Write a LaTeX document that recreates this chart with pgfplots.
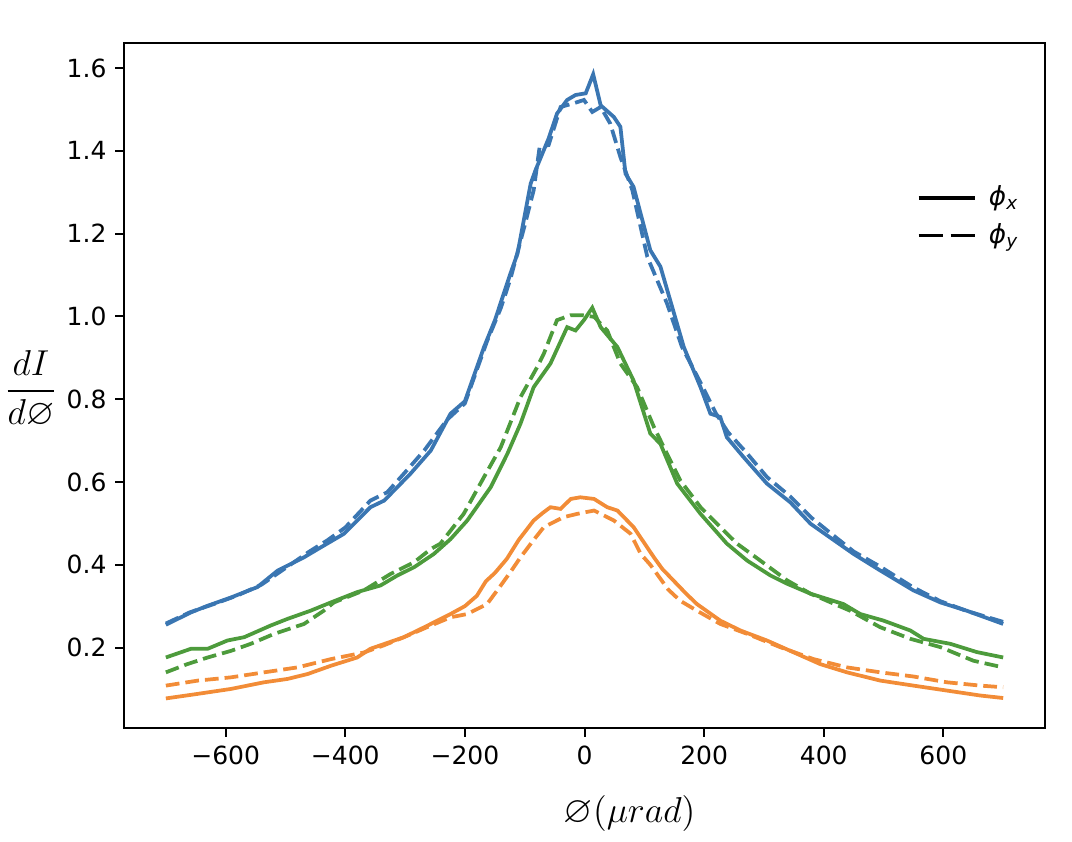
\documentclass[border=0pt]{standalone}
\usepackage{fontspec}
\setmainfont{DejaVu Sans}
\usepackage{amssymb}
\usepackage{pgfplots}
\pgfplotsset{compat=1.18}
\definecolor{cblue}{RGB}{58,118,178}
\definecolor{corange}{RGB}{242,140,55}
\definecolor{cgreen}{RGB}{77,155,60}
\begin{document}
\begin{tikzpicture}
\begin{axis}[
  scale only axis, width=368.4pt, height=274pt,
  xmin=-770, xmax=770, ymin=0.005, ymax=1.66,
  xtick={-600,-400,-200,0,200,400,600},
  xticklabels={−600,−400,−200,0,200,400,600},
  ytick={0.2,0.4,0.6,0.8,1.0,1.2,1.4,1.6},
  yticklabels={0.2,0.4,0.6,0.8,1.0,1.2,1.4,1.6},
  tick pos=left, tick align=outside, major tick length=3.5pt,
  every tick/.style={black, line width=0.8pt},
  axis line style={line width=0.8pt},
  ticklabel style={font=\fontsize{10}{12}\selectfont},
  xlabel={\fontsize{15}{17}\selectfont$\varnothing(\mu rad)$},
  xlabel style={at={(axis description cs:0.549,-0.0975)}, anchor=north, inner sep=0pt},
  every axis y label/.style={at={(axis description cs:-0.101,0.495)}, anchor=center, inner sep=0pt},
  ylabel={\fontsize{14.5}{16}\selectfont$\displaystyle\frac{dI}{d\varnothing}$},
  legend style={draw=none, fill=none, at={(rel axis cs:0.852,0.807)}, anchor=north west,
    font=\fontsize{10.5}{12}\selectfont, row sep=1.6pt, column sep=3pt},
  legend cell align=left,
  legend image code/.code={\draw[#1] (0pt,0pt) -- (22.4pt,0pt);},
  every axis plot/.append style={line width=1.5pt},
]
\addlegendimage{black, line width=1.5pt}
\addlegendentry{\textit{ϕ}\textsubscript{\textit{x}}}
\addlegendimage{black, line width=1.5pt, dash pattern=on 9.6pt off 3.2pt}
\addlegendentry{\textit{ϕ}\textsubscript{\textit{y}}}

% blue solid
\addplot[cblue, forget plot] coordinates {
(-700,0.255) (-658,0.285) (-630,0.301) (-591,0.321) (-547,0.346) (-513,0.386)
(-469,0.418) (-441,0.442) (-402,0.475) (-358,0.539) (-335,0.555) (-291,0.620)
(-257,0.676) (-224,0.765) (-200,0.795) (-168,0.926) (-150,0.99) (-124,1.103)
(-112,1.152) (-90,1.321) (-82,1.353) (-60,1.43) (-46,1.490) (-29,1.523)
(-15,1.535) (2,1.539) (14.5,1.585) (27,1.510) (49,1.482) (60,1.458)
(68.5,1.345) (82,1.313) (110,1.160) (127,1.120) (166,0.926) (194,0.829)
(210.5,0.765) (227,0.757) (238,0.708) (266,0.660) (305,0.596) (344,0.551)
(378,0.499) (405.5,0.471) (450,0.426) (494.6,0.386) (550,0.338) (595,0.309)
(639,0.289) (700,0.257)
};
% blue dashed
\addplot[cblue, dash pattern=on 5.5pt off 2.4pt, forget plot] coordinates {
(-700,0.258) (-660,0.285) (-620,0.305) (-580,0.326) (-540,0.352) (-500,0.392)
(-460,0.432) (-430,0.459) (-400,0.490) (-358,0.555) (-330,0.575) (-302,0.620)
(-268,0.676) (-230,0.750) (-200,0.790) (-163,0.940) (-140,1.02) (-124,1.09)
(-100,1.22) (-85,1.305) (-75,1.41) (-60,1.414) (-40,1.506) (-18,1.515)
(-1,1.523) (13,1.494) (27,1.506) (43,1.466) (60,1.385) (80,1.305)
(105,1.144) (138,1.031) (163,0.926) (194,0.84) (220,0.765) (240,0.72)
(270,0.672) (305,0.612) (344,0.565) (380,0.513) (410,0.478) (450,0.432)
(495,0.395) (550,0.345) (595,0.312) (640,0.288) (700,0.262)
};
% green solid
\addplot[cgreen, forget plot] coordinates {
(-700,0.176) (-658,0.197) (-630,0.197) (-597,0.217) (-569,0.225) (-525,0.253)
(-497,0.269) (-458,0.289) (-424,0.309) (-380,0.334) (-341,0.350) (-313,0.374)
(-285,0.394) (-252,0.426) (-224,0.462) (-196,0.507) (-157,0.587) (-129,0.668)
(-107,0.741) (-85,0.829) (-57,0.886) (-29,0.974) (-15,0.966) (-1,0.991)
(13,1.021) (27,0.974) (55,0.926) (82,0.845) (110,0.717) (127,0.692)
(155,0.596) (194,0.523) (238,0.451) (272,0.410) (311,0.374) (339,0.354)
(378,0.330) (433,0.305) (461,0.281) (500,0.265) (545,0.241) (567,0.221)
(611.5,0.209) (656,0.189) (700,0.176)
};
% green dashed
\addplot[cgreen, dash pattern=on 5.5pt off 2.4pt, forget plot] coordinates {
(-700,0.140) (-664,0.160) (-630,0.176) (-591,0.192) (-558,0.209) (-519,0.233)
(-469,0.257) (-436,0.289) (-419,0.309) (-369,0.338) (-324,0.378) (-285,0.406)
(-257,0.438) (-241,0.451) (-202,0.523) (-168,0.612) (-140,0.684) (-107,0.805)
(-79,0.878) (-68,0.910) (-46,0.991) (-23,1.003) (-4,1.003) (16,0.999)
(38,0.966) (60,0.886) (88,0.829) (116,0.733) (138,0.668) (160,0.604)
(194,0.539) (216,0.507) (255,0.451) (294,0.410) (339,0.362) (378,0.330)
(444,0.289) (494.6,0.249) (545,0.221) (595,0.201) (650.5,0.168) (700,0.152)
};
% orange solid
\addplot[corange, forget plot] coordinates {
(-700,0.077) (-647,0.088) (-591,0.100) (-536,0.116) (-497,0.124) (-463,0.136)
(-424,0.156) (-380,0.176) (-358,0.197) (-302,0.225) (-268,0.249) (-224,0.281)
(-200,0.300) (-180,0.325) (-165,0.360) (-150,0.380) (-130,0.414) (-110,0.460)
(-85,0.507) (-70,0.525) (-57,0.539) (-40,0.535) (-23,0.559) (-7,0.563)
(16,0.559) (38,0.539) (55,0.531) (82,0.491) (116,0.418) (130,0.390)
(150,0.360) (170,0.330) (188,0.305) (227,0.265) (261,0.241) (305,0.217)
(355,0.185) (394,0.160) (439,0.140) (495,0.120) (550,0.108) (606,0.096)
(662,0.084) (700,0.078)
};
% orange dashed
\addplot[corange, dash pattern=on 5.5pt off 2.4pt, forget plot] coordinates {
(-700,0.108) (-647,0.120) (-591,0.128) (-536,0.140) (-480,0.152) (-424,0.172)
(-369,0.188) (-336,0.205) (-302,0.225) (-257,0.253) (-224,0.273) (-196,0.281)
(-163,0.305) (-145,0.340) (-125,0.380) (-107,0.418) (-85,0.460) (-68,0.491)
(-35,0.515) (-12,0.523) (16,0.531) (49,0.507) (77,0.475) (94,0.426)
(110,0.400) (125,0.370) (140,0.340) (160,0.313) (188,0.289) (227,0.257)
(272,0.233) (327,0.201) (383,0.172) (439,0.152) (495,0.140) (550,0.130)
(606,0.116) (662,0.108) (700,0.104)
};
\node[anchor=base west, inner sep=0pt, font=\fontsize{10}{12}\selectfont] at (rel axis cs:0,1) [xshift=1pt, yshift=4.1pt] {1e18};
\end{axis}
\pgfresetboundingbox
\useasboundingbox (-49.6pt,-45.5pt) rectangle (379.2pt,291.3pt);
\end{tikzpicture}
\end{document}
